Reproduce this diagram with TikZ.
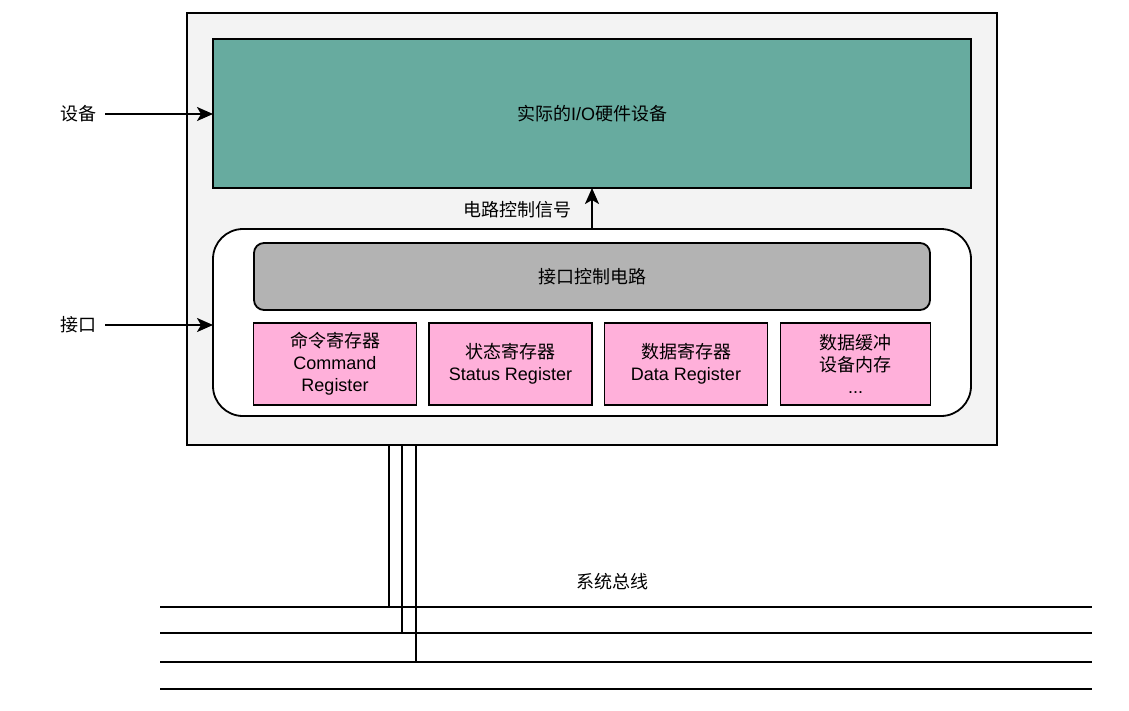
\documentclass[tikz,border=0pt]{standalone}
\usepackage{fontspec}
\setmainfont{Liberation Sans}
\newfontfamily\cjk{Noto Sans CJK SC}
\usetikzlibrary{arrows.meta}
\definecolor{outerfill}{HTML}{F3F3F3}
\definecolor{devfill}{HTML}{67AB9F}
\definecolor{ctrlfill}{HTML}{B3B3B3}
\definecolor{regfill}{HTML}{FFB0DA}
\begin{document}
\begin{tikzpicture}[x=1pt,y=-1pt,
  every node/.style={font=\fontsize{18}{22}\selectfont, inner sep=0pt, outer sep=0pt},
  box/.style={draw=black, line width=1.8pt, rectangle},
  regbox/.style={box, fill=regfill, minimum height=82pt, align=center},
  arr/.style={line width=2pt, -{Stealth[length=16pt,width=14pt,inset=4pt]}},
  bus/.style={line width=1.8pt}
]
\useasboundingbox (0,0) rectangle (1129,710);
% outer box
\node[box, fill=outerfill, minimum width=810pt, minimum height=432pt] (outer) at (592,229) {};
% device
\node[box, fill=devfill, minimum width=758pt, minimum height=149pt] (dev) at (592,113.5) {{\cjk 实际的}I/O{\cjk 硬件设备}};
% interface
\node[box, fill=white, rounded corners=30pt, minimum width=758pt, minimum height=187pt] (intf) at (592,322.5) {};
\node[box, fill=ctrlfill, rounded corners=10pt, minimum width=676pt, minimum height=67pt] (ctrl) at (592,276.5) {\cjk 接口控制电路};
% registers
\node[regbox, minimum width=163pt] (r1) at (335,364) {{\cjk 命令寄存器}\\Command\\Register};
\node[regbox, minimum width=163pt] (r2) at (510.5,364) {{\cjk 状态寄存器}\\Status Register};
\node[regbox, minimum width=163pt] (r3) at (686,364) {{\cjk 数据寄存器}\\Data Register};
\node[regbox, minimum width=150pt] (r4) at (855.5,364) {{\cjk 数据缓冲}\\{\cjk 设备内存}\\...};
% signal arrow
\draw[arr] (intf.north -| dev.south) -- (dev.south);
\node (sig) at (517,210) {\cjk 电路控制信号};
% left labels
\node (lbl1) at (78,114) {\cjk 设备};
\node (lbl2) at (78,325) {\cjk 接口};
\draw[arr] (lbl1.east) ++(9pt,0) coordinate (a1) -- (dev.west |- a1);
\draw[arr] (lbl2.east) ++(9pt,0) coordinate (a2) -- (intf.west |- a2);
% bus
\coordinate (b1L) at (160,607); \coordinate (b1R) at (1092,607);
\coordinate (b2L) at (160,633); \coordinate (b2R) at (1092,633);
\coordinate (b3L) at (160,662); \coordinate (b3R) at (1092,662);
\coordinate (b4L) at (160,689); \coordinate (b4R) at (1092,689);
\draw[bus] (b1L) -- (b1R);
\draw[bus] (b2L) -- (b2R);
\draw[bus] (b3L) -- (b3R);
\draw[bus] (b4L) -- (b4R);
\coordinate (v1) at (389,445); \coordinate (v2) at (402,445); \coordinate (v3) at (416,445);
\draw[bus] (v1) -- (v1 |- b1L);
\draw[bus] (v2) -- (v2 |- b2L);
\draw[bus] (v3) -- (v3 |- b3L);
\node (busl) at (612,582) {\cjk 系统总线};
\end{tikzpicture}
\end{document}
